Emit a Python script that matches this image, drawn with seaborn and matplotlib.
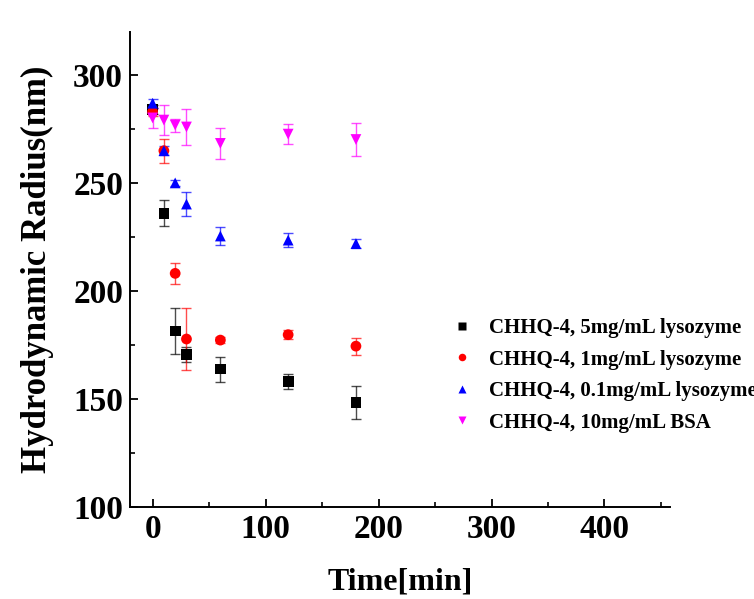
import numpy as np
import pandas as pd
import matplotlib
matplotlib.use("Agg")
import matplotlib.pyplot as plt
import seaborn as sns
from matplotlib.ticker import MultipleLocator

# time points (min)
time = [0, 10, 20, 30, 60, 120, 180]

labels = ["CHHQ-4, 5mg/mL lysozyme",
          "CHHQ-4, 1mg/mL lysozyme",
          "CHHQ-4, 0.1mg/mL lysozyme",
          "CHHQ-4, 10mg/mL BSA"]

# hydrodynamic radius (nm)
r_5mg = [284, 236, 181.5, 170.7, 163.9, 158, 148.5]
r_1mg = [283, 265, 208.2, 177.8, 177.3, 179.8, 174.5]
r_01mg = [287, 265, 250.1, 240.3, 225.5, 223.6, 222]
r_bsa = [280.2, 279.2, 276.9, 276, 268.4, 272.7, 270.2]

# error bars
e_5mg = [2, 6, 10.7, 3.5, 5.8, 3.5, 7.7]
e_1mg = [2, 5.5, 5, 14.3, 1.5, 2, 4]
e_01mg = [2, 2, 1.5, 5.6, 4, 3.3, 2]
e_bsa = [4.7, 7, 3, 8.5, 7, 4.6, 7.5]

colors = ["black", "red", "blue", "magenta"]
markers = ["s", "o", "^", "v"]

rows = []
for lab, vals, errs in zip(labels, [r_5mg, r_1mg, r_01mg, r_bsa],
                           [e_5mg, e_1mg, e_01mg, e_bsa]):
    for t, v, e in zip(time, vals, errs):
        rows.append((lab, t, v, e))
df = pd.DataFrame(rows, columns=["series", "time", "radius", "err"])

sns.set_theme(style="ticks")
plt.rcParams["font.family"] = ["Liberation Serif", "DejaVu Serif"]
plt.rcParams["font.weight"] = "bold"
for k in ["text.color", "axes.labelcolor", "xtick.color", "ytick.color",
          "axes.edgecolor"]:
    plt.rcParams[k] = "black"

fig = plt.figure(figsize=(7.54, 5.99), dpi=100)
ax = fig.add_axes([0.1724, 0.1536, 0.7162, 0.793])

for lab, c in zip(labels, colors):
    sub = df[df["series"] == lab]
    ax.errorbar(sub["time"], sub["radius"], yerr=sub["err"], fmt="none",
                ecolor=c, elinewidth=1, capsize=3.8, capthick=1, alpha=0.7,
                zorder=2)

sns.scatterplot(data=df, x="time", y="radius", hue="series", style="series",
                palette=colors, markers=markers, hue_order=labels,
                style_order=labels, s=60, edgecolor="none", ax=ax,
                zorder=3)

ax.set_xlim(-20, 458)
ax.set_ylim(100, 320)
ax.xaxis.set_major_locator(MultipleLocator(100))
ax.xaxis.set_minor_locator(MultipleLocator(50))
ax.yaxis.set_major_locator(MultipleLocator(50))
ax.yaxis.set_minor_locator(MultipleLocator(25))
ax.tick_params(which="major", direction="in", length=6, width=1.3,
               labelsize=24, pad=5)
ax.tick_params(which="minor", direction="in", length=3.5, width=1.2)
for lbl in ax.get_xticklabels() + ax.get_yticklabels():
    lbl.set_fontweight("bold")

sns.despine(ax=ax)
for sp in ["left", "bottom"]:
    ax.spines[sp].set_linewidth(1.4)

ax.set_xlabel("Time[min]", fontsize=23, fontweight="bold", labelpad=16)
ax.set_ylabel("Hydrodynamic Radius(nm)", fontsize=25, fontweight="bold",
              labelpad=14)

h, l = ax.get_legend_handles_labels()
ax.legend_.remove()
leg = fig.legend(h, l, loc="upper left", bbox_to_anchor=(0.56, 0.5),
                 frameon=False, markerscale=0.7,
                 handletextpad=0.3, labelspacing=0.55,
                 prop={"weight": "bold", "size": 15})

fig.savefig("out.png", dpi=100)
